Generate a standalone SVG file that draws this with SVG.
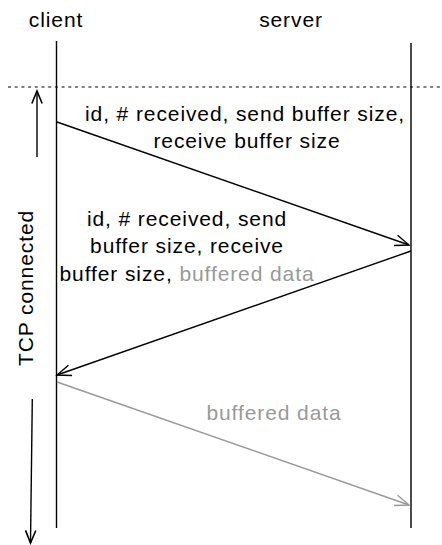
<svg xmlns="http://www.w3.org/2000/svg" width="442" height="545" viewBox="0 0 442 545">
<style>
text{font-family:"Liberation Sans",Arial,sans-serif;font-size:21px;letter-spacing:0.9px;fill:#000}
.g{fill:#999}
.ln{stroke:#000;stroke-width:1.4;fill:none}
.gl{stroke:#999;stroke-width:1.4;fill:none}
</style>
<defs>
<marker id="ah" markerUnits="userSpaceOnUse" markerWidth="20" markerHeight="20" viewBox="-16 -8 20 16" refX="0" refY="0" orient="auto">
<path d="M-14,-5.5 L0,0 L-14,5.5" fill="none" stroke="#000" stroke-width="1.4"/>
</marker>
<marker id="ahg" markerUnits="userSpaceOnUse" markerWidth="20" markerHeight="20" viewBox="-16 -8 20 16" refX="0" refY="0" orient="auto">
<path d="M-14,-5.5 L0,0 L-14,5.5" fill="none" stroke="#999" stroke-width="1.4"/>
</marker>
<marker id="ahs" markerUnits="userSpaceOnUse" markerWidth="16" markerHeight="16" viewBox="-12 -6 14 12" refX="0" refY="0" orient="auto">
<path d="M-11,-4.5 L0,0 L-11,4.5" fill="none" stroke="#000" stroke-width="1.4"/>
</marker>
</defs>
<g id="client">
<text x="56" y="27" text-anchor="middle">client</text>
<line class="ln" x1="56.5" y1="41" x2="56.5" y2="528"/>
</g>
<g id="server">
<text x="291" y="27" text-anchor="middle">server</text>
<line class="ln" x1="411" y1="43" x2="411" y2="528"/>
</g>
<g id="tcp">
<line x1="8" y1="87" x2="442" y2="87" stroke="#000" stroke-width="1.2" stroke-dasharray="3,3.7"/>
<line class="ln" x1="37" y1="157" x2="37" y2="91" marker-end="url(#ahs)"/>
<line class="ln" x1="32.3" y1="399" x2="30.5" y2="543" marker-end="url(#ahs)"/>
<text transform="translate(33,288) rotate(-90)" text-anchor="middle" font-size="23">TCP connected</text>
</g>
<g id="connectors">
<line class="ln" x1="57" y1="122" x2="409" y2="245" marker-end="url(#ah)"/>
<line class="ln" x1="411" y1="251" x2="57" y2="375" marker-end="url(#ah)"/>
<line class="gl" x1="57" y1="382" x2="409" y2="505" marker-end="url(#ahg)"/>
</g>
<g id="labels">
<text x="245" y="121" text-anchor="middle">id, # received, send buffer size,</text>
<text x="247" y="148" text-anchor="middle">receive buffer size</text>
<text x="187" y="226" text-anchor="middle">id, # received, send</text>
<text x="187" y="253" text-anchor="middle">buffer size, receive</text>
<text x="187" y="281" text-anchor="middle">buffer size, <tspan class="g">buffered data</tspan></text>
<text class="g" x="274" y="420" text-anchor="middle">buffered data</text>
</g>
</svg>
